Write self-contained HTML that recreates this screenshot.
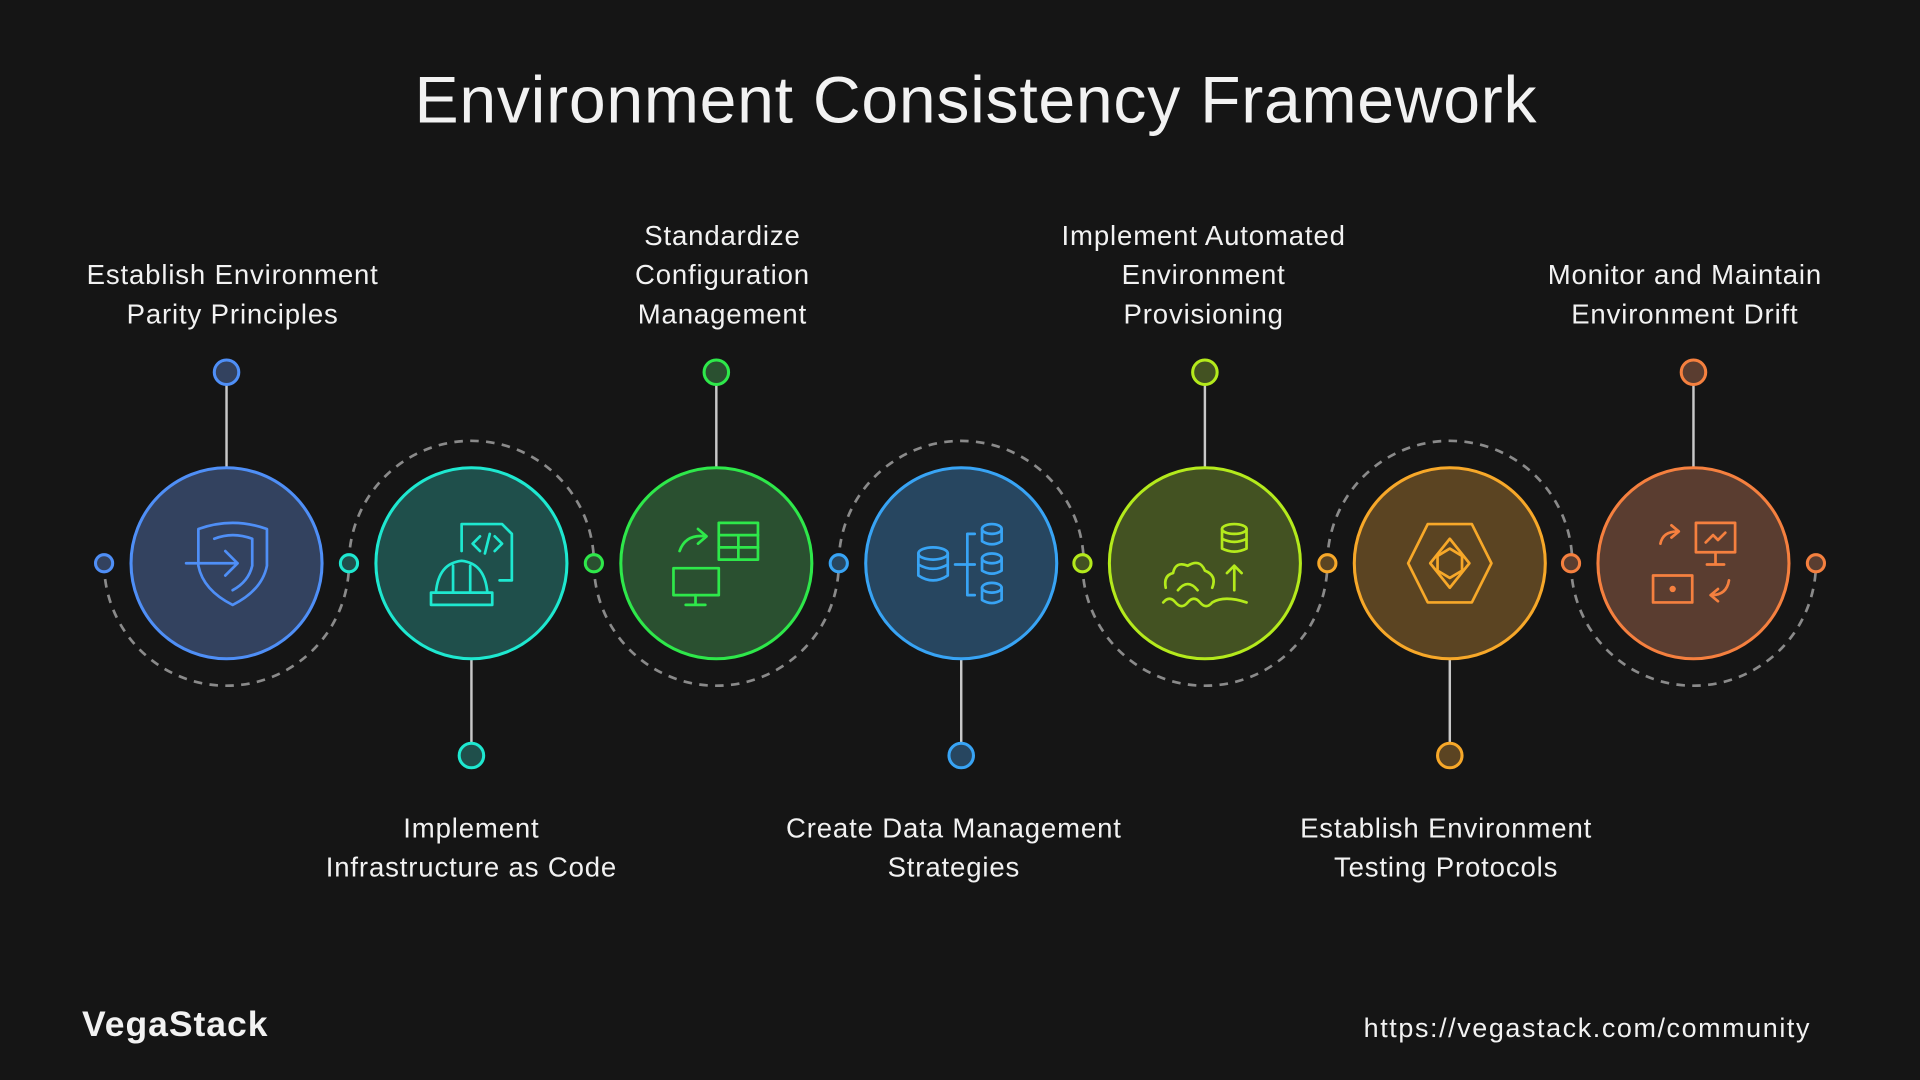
<!DOCTYPE html>
<html><head><meta charset="utf-8"><style>
html,body{margin:0;padding:0;background:#151515;}
svg{display:block;}
text{font-family:"Liberation Sans","DejaVu Sans",sans-serif;fill:#f2f2f2;}
</style></head><body>
<svg width="1920" height="1080" viewBox="0 0 1568 882" xmlns="http://www.w3.org/2000/svg">
<rect width="1568" height="882" fill="#151515"/>
<text x="797" y="100" font-size="54" letter-spacing="0.6" text-anchor="middle">Environment Consistency Framework</text>

<g fill="none" stroke="#8a8a8a" stroke-width="2.2" stroke-dasharray="7 6">
<path d="M85 460 A100 100 0 0 0 285 460"/>
<path d="M285 460 A100 100 0 0 1 485 460"/>
<path d="M485 460 A100 100 0 0 0 685 460"/>
<path d="M685 460 A100 100 0 0 1 885 460"/>
<path d="M884 460 A100 100 0 0 0 1084 460"/>
<path d="M1084 460 A100 100 0 0 1 1284 460"/>
<path d="M1283 460 A100 100 0 0 0 1483 460"/>
</g>

<g stroke="#c8c8c8" stroke-width="2">
<line x1="185" y1="313" x2="185" y2="382"/>
<line x1="585" y1="313" x2="585" y2="382"/>
<line x1="984" y1="313" x2="984" y2="382"/>
<line x1="1383" y1="313" x2="1383" y2="382"/>
<line x1="385" y1="538" x2="385" y2="607"/>
<line x1="785" y1="538" x2="785" y2="607"/>
<line x1="1184" y1="538" x2="1184" y2="607"/>
</g>

<g stroke-width="2.5">
<circle cx="185" cy="460" r="78" fill="#33425f" stroke="#4f8ff7"/>
<circle cx="385" cy="460" r="78" fill="#1f4f4b" stroke="#1ee8d0"/>
<circle cx="585" cy="460" r="78" fill="#2a5030" stroke="#2ee84a"/>
<circle cx="785" cy="460" r="78" fill="#274660" stroke="#38a4f5"/>
<circle cx="984" cy="460" r="78" fill="#435222" stroke="#b4ea1c"/>
<circle cx="1184" cy="460" r="78" fill="#5b4422" stroke="#f7a829"/>
<circle cx="1383" cy="460" r="78" fill="#5a3d30" stroke="#f5803f"/>

<circle cx="185" cy="304" r="10" fill="#33425f" stroke="#4f8ff7"/>
<circle cx="585" cy="304" r="10" fill="#2a5030" stroke="#2ee84a"/>
<circle cx="984" cy="304" r="10" fill="#435222" stroke="#b4ea1c"/>
<circle cx="1383" cy="304" r="10" fill="#5a3d30" stroke="#f5803f"/>
<circle cx="385" cy="617" r="10" fill="#1f4f4b" stroke="#1ee8d0"/>
<circle cx="785" cy="617" r="10" fill="#274660" stroke="#38a4f5"/>
<circle cx="1184" cy="617" r="10" fill="#5b4422" stroke="#f7a829"/>

<circle cx="85" cy="460" r="7" fill="#33425f" stroke="#4f8ff7"/>
<circle cx="285" cy="460" r="7" fill="#1f4f4b" stroke="#1ee8d0"/>
<circle cx="485" cy="460" r="7" fill="#2a5030" stroke="#2ee84a"/>
<circle cx="685" cy="460" r="7" fill="#274660" stroke="#38a4f5"/>
<circle cx="884" cy="460" r="7" fill="#435222" stroke="#b4ea1c"/>
<circle cx="1084" cy="460" r="7" fill="#5b4422" stroke="#f7a829"/>
<circle cx="1283" cy="460" r="7" fill="#5a3d30" stroke="#f5803f"/>
<circle cx="1483" cy="460" r="7" fill="#5a3d30" stroke="#f5803f"/>
</g>

<g fill="none" stroke-width="2.2" stroke-linecap="round" stroke-linejoin="round">
<g stroke="#4f8ff7">
<path d="M162 432 Q190 422 218 432 L218 462 Q214 482 190 494 Q166 482 162 462 Z"/>
<path d="M175 440 Q190 434 206 440 L206 462 Q203 475 190 482"/>
<path d="M152 460 L194 460 M184 450 L194 460 L184 470"/>
</g>
<g stroke="#1ee8d0">
<path d="M377 450 L377 428 L410 428 L418 436 L418 474 L408 474"/>
<path d="M392 438 L386 444 L392 450 M404 438 L410 444 L404 450 M400 436 L396 452"/>
<path d="M352 484 L402 484 L402 494 L352 494 Z"/>
<path d="M356 484 Q358 460 377 458 Q396 460 398 484 M370 484 L370 462 M384 484 L384 462"/>
</g>
<g stroke="#2ee84a">
<rect x="587" y="427" width="32" height="30"/>
<path d="M587 437 L619 437 M587 447 L619 447 M603 437 L603 457"/>
<path d="M555 450 Q560 436 576 438 M570 432 L577 438 L570 444"/>
<rect x="550" y="464" width="37" height="22"/>
<path d="M568 486 L568 494 M560 494 L576 494"/>
</g>
<g stroke="#38a4f5">
<ellipse cx="762" cy="452" rx="12" ry="5"/>
<path d="M750 452 L750 470 Q762 478 774 470 L774 452 M750 461 Q762 468 774 461"/>
<ellipse cx="810" cy="432" rx="8" ry="4"/><path d="M802 432 L802 442 Q810 447 818 442 L818 432"/>
<ellipse cx="810" cy="456" rx="8" ry="4"/><path d="M802 456 L802 466 Q810 471 818 466 L818 456"/>
<ellipse cx="810" cy="480" rx="8" ry="4"/><path d="M802 480 L802 490 Q810 495 818 490 L818 480"/>
<path d="M780 461 L796 461 M796 436 L790 436 L790 486 L796 486"/>
</g>
<g stroke="#b4ea1c">
<ellipse cx="1008" cy="432" rx="10" ry="4"/>
<path d="M998 432 L998 448 Q1008 453 1018 448 L1018 432 M998 440 Q1008 445 1018 440"/>
<path d="M1008 482 L1008 462 M1002 468 L1008 462 L1014 468"/>
<path d="M952 480 Q950 470 958 468 Q960 458 970 462 Q980 456 984 466 Q994 470 990 480"/>
<path d="M962 482 Q970 472 978 482"/>
<path d="M950 492 Q955 486 960 492 Q965 498 970 492 Q975 486 980 492 Q985 498 990 492 Q1000 486 1018 492"/>
</g>
<g stroke="#f7a829">
<path d="M1166 428 L1202 428 L1218 460 L1202 492 L1166 492 L1150 460 Z"/>
<path d="M1184 440 L1200 460 L1184 480 L1168 460 Z"/>
<path d="M1184 448 L1194 454 L1194 466 L1184 472 L1174 466 L1174 454 Z"/>
</g>
<g stroke="#f5803f">
<rect x="1385" y="427" width="32" height="24"/>
<path d="M1401 451 L1401 461 M1394 461 L1408 461 M1393 443 L1399 437 L1403 441 L1409 435"/>
<path d="M1356 444 Q1358 434 1370 434 M1365 429 L1371 434 L1365 439"/>
<rect x="1350" y="470" width="32" height="22"/>
<circle cx="1366" cy="481" r="1.5" fill="#f5803f"/>
<path d="M1412 474 Q1410 486 1398 486 M1403 481 L1397 486 L1403 491"/>
</g>
</g>

<g font-size="22.5" letter-spacing="0.7" text-anchor="middle">
<text x="190" y="232">Establish Environment</text>
<text x="190" y="264">Parity Principles</text>
<text x="590" y="200">Standardize</text>
<text x="590" y="232">Configuration</text>
<text x="590" y="264">Management</text>
<text x="983" y="200">Implement Automated</text>
<text x="983" y="232">Environment</text>
<text x="983" y="264">Provisioning</text>
<text x="1376" y="232">Monitor and Maintain</text>
<text x="1376" y="264">Environment Drift</text>
<text x="385" y="684">Implement</text>
<text x="385" y="716">Infrastructure as Code</text>
<text x="779" y="684">Create Data Management</text>
<text x="779" y="716">Strategies</text>
<text x="1181" y="684">Establish Environment</text>
<text x="1181" y="716">Testing Protocols</text>
</g>

<text x="67" y="846" font-size="29" font-weight="bold" letter-spacing="0.8" fill="#e8e8e8">VegaStack</text>
<text x="1479" y="847" font-size="22" letter-spacing="1.3" text-anchor="end" fill="#dddddd">https://vegastack.com/community</text>
</svg>
</body></html>
